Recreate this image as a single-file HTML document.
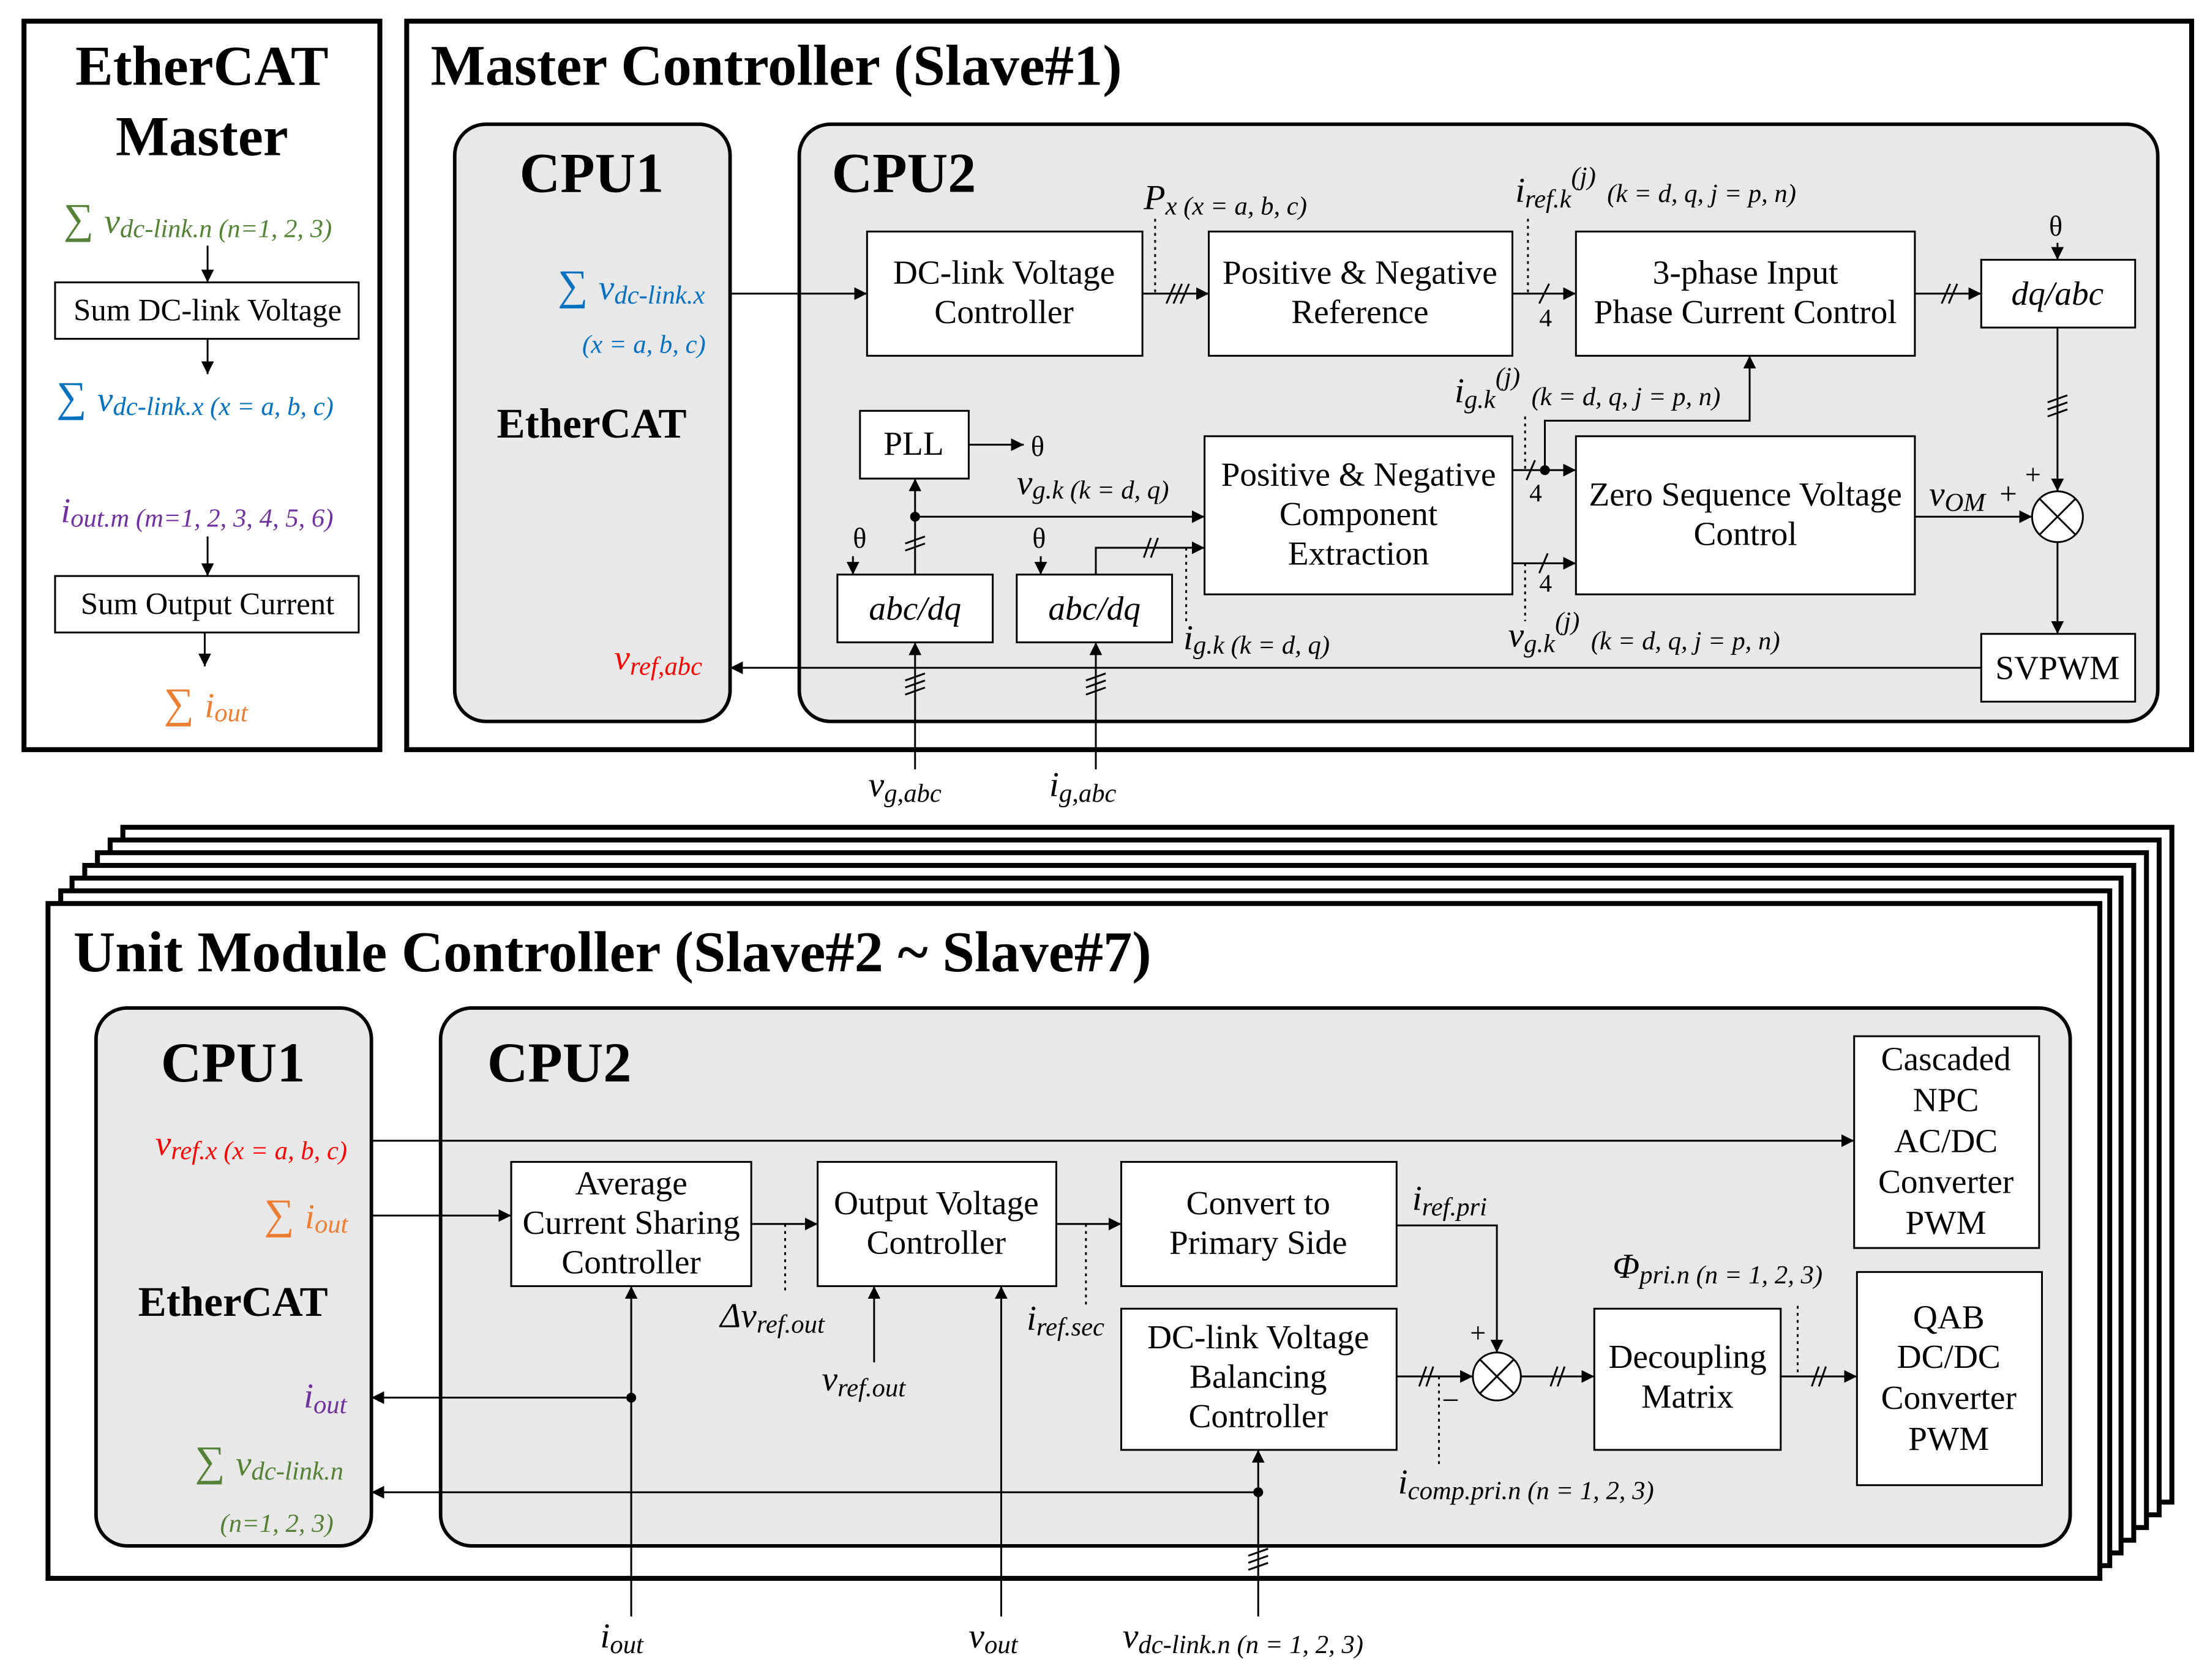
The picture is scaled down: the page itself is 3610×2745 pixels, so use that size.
<!DOCTYPE html>
<html><head><meta charset="utf-8">
<style>
html,body{margin:0;padding:0;background:#fff;}
svg{display:block;}
text{font-family:"Liberation Serif",serif;}
.b{font-size:24px;text-anchor:middle;}
.t{font-weight:bold;}
.l{font-style:italic;font-size:25px;}
.s{font-size:18.5px;}
</style></head><body>
<svg width="3610" height="2745" viewBox="0 0 1565 1190" xmlns="http://www.w3.org/2000/svg">
<defs>
<marker id="a" viewBox="0 0 10 10" refX="10" refY="5" markerWidth="9" markerHeight="9" markerUnits="userSpaceOnUse" orient="auto"><path d="M0,0L10,5L0,10z" fill="#000"/></marker>
</defs>
<rect width="1565" height="1190" fill="#fff"/>
<g fill="none" stroke="#000" stroke-width="1.3">
<rect x="17" y="15" width="252" height="516" stroke-width="3.5"/>
<rect x="288" y="15" width="1264" height="516" stroke-width="3.5"/>
<rect x="322" y="88" width="195" height="423" rx="22" fill="#e8e8e8" stroke-width="2.5"/>
<rect x="566" y="88" width="962" height="423" rx="22" fill="#e8e8e8" stroke-width="2.5"/>
<rect x="39" y="200" width="215" height="40" fill="#fff"/>
<rect x="39" y="408" width="215" height="40" fill="#fff"/>
<line x1="147" y1="174" x2="147" y2="200" marker-end="url(#a)"/>
<line x1="147" y1="240" x2="147" y2="265" marker-end="url(#a)"/>
<line x1="147" y1="380" x2="147" y2="408" marker-end="url(#a)"/>
<line x1="145" y1="448" x2="145" y2="472" marker-end="url(#a)"/>
<rect x="614" y="164" width="195" height="88" fill="#fff"/>
<rect x="856" y="164" width="215" height="88" fill="#fff"/>
<rect x="1116" y="164" width="240" height="88" fill="#fff"/>
<rect x="1403" y="184" width="109" height="48" fill="#fff"/>
<rect x="609" y="291" width="77" height="48" fill="#fff"/>
<rect x="853" y="309" width="218" height="112" fill="#fff"/>
<rect x="1116" y="309" width="240" height="112" fill="#fff"/>
<rect x="1403" y="449" width="109" height="48" fill="#fff"/>
<rect x="593" y="407" width="110" height="48" fill="#fff"/>
<rect x="720" y="407" width="110" height="48" fill="#fff"/>
<circle cx="1457" cy="366" r="18" fill="#fff"/>
<path d="M1444,353L1470,379M1470,353L1444,379"/>
<line x1="517" y1="208" x2="614" y2="208" marker-end="url(#a)"/>
<line x1="809" y1="208" x2="856" y2="208" marker-end="url(#a)"/>
<path d="M826,215l6,-14M831,215l6,-14M836,215l6,-14"/>
<line x1="1071" y1="208" x2="1116" y2="208" marker-end="url(#a)"/>
<path d="M1090,215l7,-14"/>
<line x1="1356" y1="208" x2="1403" y2="208" marker-end="url(#a)"/>
<path d="M1375,215l6,-14M1380,215l6,-14"/>
<line x1="1457" y1="172" x2="1457" y2="184" marker-end="url(#a)"/>
<line x1="1457" y1="232" x2="1457" y2="348" marker-end="url(#a)"/>
<path d="M1450,285l14,-5M1450,290l14,-5M1450,295l14,-5"/>
<line x1="1457" y1="384" x2="1457" y2="449" marker-end="url(#a)"/>
<line x1="1403" y1="473" x2="517" y2="473" marker-end="url(#a)"/>
<line x1="1356" y1="366" x2="1439" y2="366" marker-end="url(#a)"/>
<line x1="686" y1="315" x2="725" y2="315" marker-end="url(#a)"/>
<line x1="648" y1="407" x2="648" y2="339" marker-end="url(#a)"/>
<path d="M641,385l14,-5M641,390l14,-5"/>
<line x1="648" y1="366" x2="853" y2="366" marker-end="url(#a)"/>
<path d="M776,407V388H853" marker-end="url(#a)"/>
<path d="M810,395l5,-14M815,395l5,-14"/>
<line x1="604" y1="394" x2="604" y2="407" marker-end="url(#a)"/>
<line x1="737" y1="394" x2="737" y2="407" marker-end="url(#a)"/>
<line x1="648" y1="545" x2="648" y2="455" marker-end="url(#a)"/>
<path d="M641,482l14,-5M641,487l14,-5M641,492l14,-5"/>
<line x1="776" y1="545" x2="776" y2="455" marker-end="url(#a)"/>
<path d="M769,482l14,-5M769,487l14,-5M769,492l14,-5"/>
<line x1="1071" y1="333" x2="1116" y2="333" marker-end="url(#a)"/>
<path d="M1081,340l6,-14"/>
<path d="M1094,333V298H1239V252" marker-end="url(#a)"/>
<line x1="1071" y1="399" x2="1116" y2="399" marker-end="url(#a)"/>
<path d="M1090,406l6,-14"/>
<g stroke-dasharray="2,3">
<line x1="818" y1="155" x2="818" y2="208"/>
<line x1="1082" y1="155" x2="1082" y2="208"/>
<line x1="1080" y1="295" x2="1080" y2="333"/>
<line x1="1080" y1="399" x2="1080" y2="440"/>
<line x1="840" y1="388" x2="840" y2="440"/>
</g>
<rect x="87" y="586" width="1451" height="478" fill="#fff" stroke-width="3.5"/>
<rect x="78" y="595" width="1451" height="478" fill="#fff" stroke-width="3.5"/>
<rect x="69" y="604" width="1451" height="478" fill="#fff" stroke-width="3.5"/>
<rect x="60" y="613" width="1451" height="478" fill="#fff" stroke-width="3.5"/>
<rect x="51" y="622" width="1451" height="478" fill="#fff" stroke-width="3.5"/>
<rect x="43" y="631" width="1451" height="478" fill="#fff" stroke-width="3.5"/>
<rect x="34" y="640" width="1453" height="478" fill="#fff" stroke-width="3.5"/>
<rect x="68" y="714" width="195" height="381" rx="22" fill="#e8e8e8" stroke-width="2.5"/>
<rect x="312" y="714" width="1154" height="381" rx="22" fill="#e8e8e8" stroke-width="2.5"/>
<rect x="362" y="823" width="170" height="88" fill="#fff"/>
<rect x="579" y="823" width="169" height="88" fill="#fff"/>
<rect x="794" y="823" width="195" height="88" fill="#fff"/>
<rect x="794" y="927" width="195" height="100" fill="#fff"/>
<rect x="1129" y="927" width="132" height="100" fill="#fff"/>
<rect x="1313" y="734" width="131" height="150" fill="#fff"/>
<rect x="1315" y="901" width="131" height="151" fill="#fff"/>
<circle cx="1060" cy="975" r="17" fill="#fff"/>
<path d="M1048,963L1072,987M1072,963L1048,987"/>
<line x1="263" y1="808" x2="1313" y2="808" marker-end="url(#a)"/>
<line x1="263" y1="861" x2="362" y2="861" marker-end="url(#a)"/>
<line x1="447" y1="990" x2="263" y2="990" marker-end="url(#a)"/>
<line x1="447" y1="1145" x2="447" y2="911" marker-end="url(#a)"/>
<line x1="891" y1="1057" x2="263" y2="1057" marker-end="url(#a)"/>
<line x1="891" y1="1145" x2="891" y2="1027" marker-end="url(#a)"/>
<path d="M884,1102l14,-5M884,1107l14,-5M884,1112l14,-5"/>
<line x1="532" y1="867" x2="579" y2="867" marker-end="url(#a)"/>
<line x1="619" y1="965" x2="619" y2="911" marker-end="url(#a)"/>
<line x1="709" y1="1145" x2="709" y2="911" marker-end="url(#a)"/>
<line x1="748" y1="867" x2="794" y2="867" marker-end="url(#a)"/>
<path d="M989,868H1060V958" marker-end="url(#a)"/>
<line x1="989" y1="975" x2="1043" y2="975" marker-end="url(#a)"/>
<path d="M1005,982l5,-14M1010,982l5,-14"/>
<line x1="1077" y1="975" x2="1129" y2="975" marker-end="url(#a)"/>
<path d="M1098,982l5,-14M1103,982l5,-14"/>
<line x1="1261" y1="975" x2="1315" y2="975" marker-end="url(#a)"/>
<path d="M1283,982l5,-14M1288,982l5,-14"/>
<g stroke-dasharray="2,3">
<line x1="556" y1="867" x2="556" y2="915"/>
<line x1="769" y1="867" x2="769" y2="925"/>
<line x1="1019" y1="975" x2="1019" y2="1040"/>
<line x1="1273" y1="925" x2="1273" y2="975"/>
</g>
</g>
<g fill="#000" stroke="none">
<circle cx="648" cy="366" r="3.5"/><circle cx="1094" cy="333" r="3.5"/>
<circle cx="447" cy="990" r="3.5"/><circle cx="891" cy="1057" r="3.5"/>
</g>

<text x="143" y="60" class="t" font-size="40" text-anchor="middle">EtherCAT</text>
<text x="143" y="110" class="t" font-size="40" text-anchor="middle">Master</text>
<text x="45" y="165" fill="#548235" font-size="30">∑ <tspan class="l">v</tspan><tspan class="l s" dy="3">dc-link.n (n=1, 2, 3)</tspan></text>
<text x="147" y="227" class="b" style="font-size:22px">Sum DC-link Voltage</text>
<text x="40" y="291" fill="#0070c0" font-size="30">∑ <tspan class="l">v</tspan><tspan class="l s" dy="3">dc-link.x (x = a, b, c)</tspan></text>
<text x="43" y="370" fill="#7030a0" class="l">i<tspan class="s" dy="3">out.m (m=1, 2, 3, 4, 5, 6)</tspan></text>
<text x="147" y="435" class="b" style="font-size:22px">Sum Output Current</text>
<text x="116" y="508" fill="#ed7d31" font-size="30">∑ <tspan class="l">i</tspan><tspan class="l s" dy="3">out</tspan></text>

<text x="305" y="60" class="t" font-size="41">Master Controller (Slave#1)</text>
<text x="419" y="136" class="t" font-size="40" text-anchor="middle">CPU1</text>
<text x="589" y="136" class="t" font-size="40">CPU2</text>
<text x="395" y="212" fill="#0070c0" font-size="30">∑ <tspan class="l">v</tspan><tspan class="l s" dy="3">dc-link.x</tspan></text>
<text x="456" y="250" fill="#0070c0" class="l s" text-anchor="middle">(x = a, b, c)</text>
<text x="419" y="310" class="t" font-size="30" text-anchor="middle">EtherCAT</text>
<text x="435" y="474" fill="#ff0000" class="l">v<tspan class="s" dy="4">ref,abc</tspan></text>

<text x="711" y="201" class="b">DC-link Voltage</text><text x="711" y="229" class="b">Controller</text>
<text x="963" y="201" class="b">Positive &amp; Negative</text><text x="963" y="229" class="b">Reference</text>
<text x="1236" y="201" class="b">3-phase Input</text><text x="1236" y="229" class="b">Phase Current Control</text>
<text x="1457" y="216" class="b" font-style="italic">dq/abc</text>
<text x="647" y="322" class="b">PLL</text>
<text x="962" y="344" class="b">Positive &amp; Negative</text><text x="962" y="372" class="b">Component</text><text x="962" y="400" class="b">Extraction</text>
<text x="1236" y="358" class="b">Zero Sequence Voltage</text><text x="1236" y="386" class="b">Control</text>
<text x="1457" y="481" class="b">SVPWM</text>
<text x="648" y="439" class="b" font-style="italic">abc/dq</text>
<text x="775" y="439" class="b" font-style="italic">abc/dq</text>

<text x="810" y="148" class="l">P<tspan class="s" dy="4">x (x = a, b, c)</tspan></text>
<text x="1073" y="143" class="l">i<tspan class="s" dy="4">ref.k</tspan><tspan class="s" dy="-16">(j)</tspan><tspan class="s" dy="12" dx="8">(k = d, q, j = p, n)</tspan></text>
<text x="1451" y="167" font-size="20">θ</text>
<text x="730" y="323" font-size="20">θ</text>
<text x="604" y="388" font-size="20">θ</text>
<text x="731" y="388" font-size="20">θ</text>
<text x="720" y="350" class="l">v<tspan class="s" dy="3">g.k (k = d, q)</tspan></text>
<text x="1030" y="285" class="l">i<tspan class="s" dy="4">g.k</tspan><tspan class="s" dy="-16">(j)</tspan><tspan class="s" dy="14" dx="8">(k = d, q, j = p, n)</tspan></text>
<text x="1083" y="355" font-size="18">4</text>
<text x="1090" y="231" font-size="18">4</text>
<text x="1090" y="419" font-size="18">4</text>
<text x="1366" y="358" class="l">v<tspan class="s" dy="4">OM</tspan></text>
<text x="1416" y="357" font-size="22">+</text>
<text x="1434" y="343" font-size="20">+</text>
<text x="838" y="460" class="l">i<tspan class="s" dy="3">g.k (k = d, q)</tspan></text>
<text x="1068" y="458" class="l">v<tspan class="s" dy="4">g.k</tspan><tspan class="s" dy="-16">(j)</tspan><tspan class="s" dy="14" dx="8">(k = d, q, j = p, n)</tspan></text>
<text x="615" y="564" class="l">v<tspan class="s" dy="4">g,abc</tspan></text>
<text x="743" y="564" class="l">i<tspan class="s" dy="4">g,abc</tspan></text>

<text x="52" y="688" class="t" font-size="41">Unit Module Controller (Slave#2 ~ Slave#7)</text>
<text x="165" y="766" class="t" font-size="40" text-anchor="middle">CPU1</text>
<text x="345" y="766" class="t" font-size="40">CPU2</text>
<text x="110" y="818" fill="#ff0000" class="l">v<tspan class="s" dy="3">ref.x (x = a, b, c)</tspan></text>
<text x="187" y="870" fill="#ed7d31" font-size="30">∑ <tspan class="l">i</tspan><tspan class="l s" dy="3">out</tspan></text>
<text x="165" y="932" class="t" font-size="30" text-anchor="middle">EtherCAT</text>
<text x="215" y="997" fill="#7030a0" class="l">i<tspan class="s" dy="4">out</tspan></text>
<text x="138" y="1045" fill="#548235" font-size="30">∑ <tspan class="l">v</tspan><tspan class="l s" dy="3">dc-link.n</tspan></text>
<text x="196" y="1085" fill="#548235" class="l s" text-anchor="middle">(n=1, 2, 3)</text>

<text x="447" y="846" class="b">Average</text><text x="447" y="874" class="b">Current Sharing</text><text x="447" y="902" class="b">Controller</text>
<text x="663" y="860" class="b">Output Voltage</text><text x="663" y="888" class="b">Controller</text>
<text x="891" y="860" class="b">Convert to</text><text x="891" y="888" class="b">Primary Side</text>
<text x="891" y="955" class="b">DC-link Voltage</text><text x="891" y="983" class="b">Balancing</text><text x="891" y="1011" class="b">Controller</text>
<text x="1195" y="969" class="b">Decoupling</text><text x="1195" y="997" class="b">Matrix</text>
<text x="1378" y="758" class="b">Cascaded</text><text x="1378" y="787" class="b">NPC</text><text x="1378" y="816" class="b">AC/DC</text><text x="1378" y="845" class="b">Converter</text><text x="1378" y="874" class="b">PWM</text>
<text x="1380" y="941" class="b">QAB</text><text x="1380" y="969" class="b">DC/DC</text><text x="1380" y="998" class="b">Converter</text><text x="1380" y="1027" class="b">PWM</text>

<text x="510" y="940" class="l">Δv<tspan class="s" dy="4">ref.out</tspan></text>
<text x="582" y="985" class="l">v<tspan class="s" dy="4">ref.out</tspan></text>
<text x="727" y="942" class="l">i<tspan class="s" dy="4">ref.sec</tspan></text>
<text x="1000" y="857" class="l">i<tspan class="s" dy="4">ref.pri</tspan></text>
<text x="1041" y="951" font-size="20">+</text>
<text x="1021" y="999" font-size="22">−</text>
<text x="990" y="1058" class="l">i<tspan class="s" dy="4">comp.pri.n (n = 1, 2, 3)</tspan></text>
<text x="1142" y="905" class="l">Φ<tspan class="s" dy="4">pri.n (n = 1, 2, 3)</tspan></text>
<text x="425" y="1167" class="l">i<tspan class="s" dy="4">out</tspan></text>
<text x="686" y="1167" class="l">v<tspan class="s" dy="4">out</tspan></text>
<text x="795" y="1167" class="l">v<tspan class="s" dy="4">dc-link.n (n = 1, 2, 3)</tspan></text>
</svg>
</body></html>
